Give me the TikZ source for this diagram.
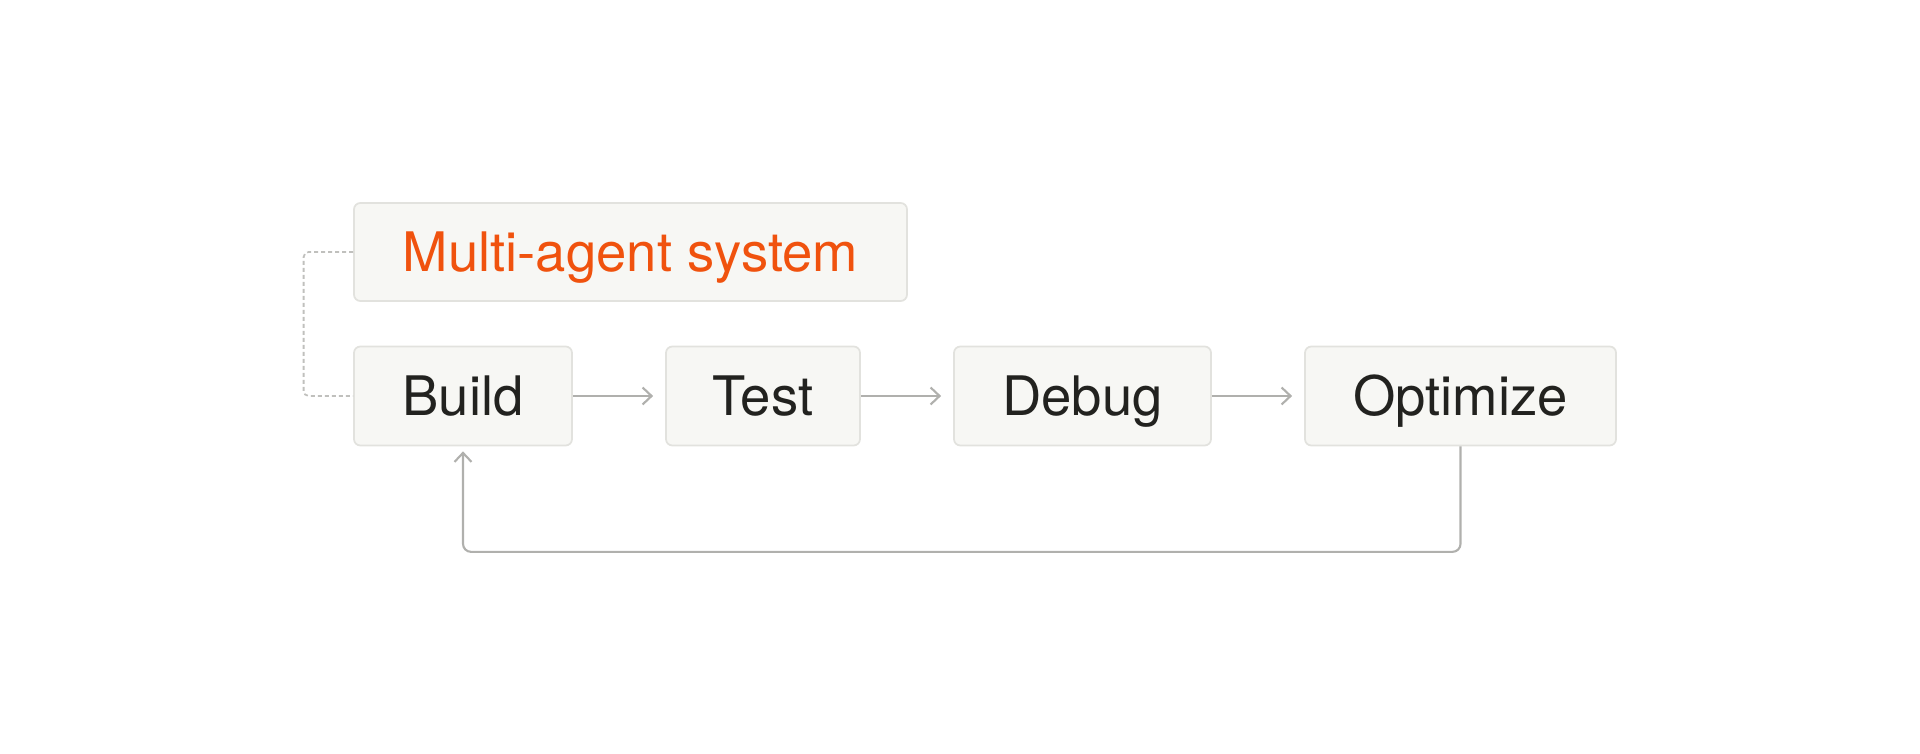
\documentclass[tikz,border=0pt]{standalone}
\usepackage{fontspec}
\setmainfont{TeX Gyre Heros}
\usetikzlibrary{arrows.meta}
\definecolor{boxfill}{HTML}{F7F7F4}
\definecolor{boxline}{HTML}{E2E2DE}
\definecolor{ink}{HTML}{22221F}
\definecolor{accent}{HTML}{F0520E}
\definecolor{wire}{HTML}{B0B0AD}
\begin{document}
\begin{tikzpicture}[line width=.5pt,
        stage/.style={draw=boxline, fill=boxfill, rounded corners=1.8pt, minimum height=.99cm,
            inner sep=0pt, text=ink, text height=.385cm, text depth=0cm, font=\fontsize{15.5}{18}\selectfont},
        flow/.style={draw=wire, line width=.6pt, -{Straight Barb[length=.09cm,width=.17cm]}}]
        \useasboundingbox (0,0) rectangle (19.2,7.54);
        \node[stage, minimum width=5.53cm, minimum height=.98cm, text=accent] (multi) at (6.305,5.02) {Multi-agent system};
        \node[stage, minimum width=2.18cm] (build) at (4.63,3.58) {Build};
        \node[stage, minimum width=1.94cm] (test) at (7.63,3.58) {Test};
        \node[stage, minimum width=2.57cm] (debug) at (10.825,3.58) {Debug};
        \node[stage, minimum width=3.11cm] (opt) at (14.605,3.58) {Optimize};
        \draw[flow, shorten >=.12cm] (build) -- (test);
        \draw[flow, shorten >=.12cm] (test) -- (debug);
        \draw[flow, shorten >=.12cm] (debug) -- (opt);
        \draw[flow, rounded corners=.08cm, shorten >=.05cm] (opt.south) -- ++(0,-1.055) -| (build.south);
        \draw[draw=wire!80, dash pattern=on .04cm off .03cm, rounded corners=.05cm] (multi.west) -- ++(-.495,0) |- (build.west);
    \end{tikzpicture}
\end{document}
